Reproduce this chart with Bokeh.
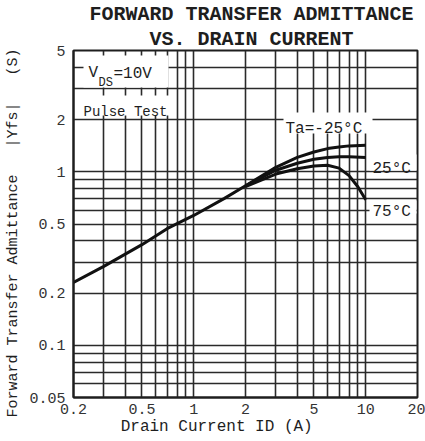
import math
from bokeh.plotting import figure
from bokeh.models import FixedTicker, Label, BoxAnnotation, CustomJSTickFormatter, Title
from bokeh.embed import file_html
from bokeh.resources import INLINE

# ---- data ----
x_ticks = [0.2, 0.5, 1, 2, 5, 10, 20]
y_ticks = [0.05, 0.1, 0.2, 0.5, 1, 2, 5]
x_grid = [0.3, 0.4, 0.5, 0.6, 0.7, 0.8, 0.9, 1, 2, 3, 4, 5, 6, 7, 8, 9, 10]
y_grid = [0.06, 0.07, 0.08, 0.09, 0.1, 0.2, 0.3, 0.4, 0.5, 0.6, 0.7, 0.8, 0.9, 1, 2, 3, 4]

common_id = [0.2, 0.3, 0.5, 0.7, 1.0, 1.5, 2.0]
common_yfs = [0.23, 0.285, 0.38, 0.47, 0.56, 0.70, 0.83]

m25_id = [2.0, 3, 4, 5, 6, 7, 8, 10]
m25_yfs = [0.83, 1.06, 1.21, 1.30, 1.36, 1.39, 1.41, 1.42]

p25_id = [2.0, 3, 4, 5, 6, 7, 8, 10]
p25_yfs = [0.83, 1.02, 1.12, 1.18, 1.21, 1.22, 1.22, 1.21]

p75_id = [2.0, 3, 4, 5, 6, 7, 8, 9, 10]
p75_yfs = [0.82, 0.97, 1.04, 1.08, 1.09, 1.05, 0.95, 0.82, 0.69]

FONT = "Liberation Mono"
INK = "#1e1e1e"
NB = "\u00a0"

FL, FB = 73, 395  # frame left / bottom in canvas px

def sx(x):
    return x - FL

def sy(y):
    return FB - y

def dx(px):
    return 10 ** (math.log10(0.2) + (px - 73) / 344 * 2)

def dy(py):
    return 10 ** (math.log10(5) - (py - 48) / 347 * 2)

p = figure(x_axis_type="log", y_axis_type="log", x_range=(0.2, 20), y_range=(0.05, 5),
           frame_width=344, frame_height=347,
           min_border_left=73, min_border_right=8, min_border_top=48, min_border_bottom=46,
           output_backend="svg", toolbar_location=None)
p.background_fill_color = "white"
p.border_fill_color = "white"
p.outline_line_color = INK
p.outline_line_width = 2

# titles (last added is outermost)
p.add_layout(Title(text=NB + "VS. DRAIN CURRENT", align="center", text_font=FONT,
                   text_font_size="20px", text_font_style="bold", text_color=INK,
                   standoff=0, text_line_height=0.9), "above")
p.add_layout(Title(text=NB + "FORWARD TRANSFER ADMITTANCE", align="center", text_font=FONT,
                   text_font_size="20px", text_font_style="bold", text_color=INK,
                   standoff=0, text_line_height=0.9), "above")

p.xaxis.ticker = FixedTicker(ticks=x_ticks)
p.yaxis.ticker = FixedTicker(ticks=y_ticks)
p.xaxis.formatter = CustomJSTickFormatter(code="return tick.toString();")
p.yaxis.formatter = CustomJSTickFormatter(code="return tick.toString();")
for ax in (p.xaxis[0], p.yaxis[0]):
    ax.major_tick_out = 0
    ax.major_tick_in = 0
    ax.minor_tick_line_color = None
    ax.axis_line_color = INK
    ax.axis_line_width = 2
    ax.major_label_text_font = FONT
    ax.major_label_text_font_size = "15px"
    ax.major_label_text_color = "#333333"
    ax.axis_label_text_font = FONT
    ax.axis_label_text_font_style = "normal"
    ax.axis_label_text_color = INK
p.xaxis.major_label_standoff = 6
p.yaxis.major_label_standoff = 8

p.xaxis.axis_label = "Drain Current ID (A)" + NB * 6
p.xaxis.axis_label_text_font_size = "16px"
p.xaxis.axis_label_standoff = 1
p.yaxis.axis_label = "Forward Transfer Admittance" + NB * 3 + "|Yfs|" + NB * 3 + "(S)" + NB * 2
p.yaxis.axis_label_text_font_size = "15px"
p.yaxis.axis_label_standoff = 4

p.xgrid.ticker = FixedTicker(ticks=x_grid)
p.ygrid.ticker = FixedTicker(ticks=y_grid)
for g in (p.xgrid[0], p.ygrid[0]):
    g.grid_line_color = "#2a2a2a"
    g.grid_line_width = 1.6
    g.grid_line_alpha = 1.0

for xs, ys in ((common_id, common_yfs), (m25_id, m25_yfs), (p25_id, p25_yfs), (p75_id, p75_yfs)):
    p.line(xs, ys, line_color="#111111", line_width=3)

def box(l, r, t, b):
    p.add_layout(BoxAnnotation(left=dx(l), right=dx(r), top=dy(t), bottom=dy(b),
                               fill_color="white", fill_alpha=1.0, line_color=None,
                               line_alpha=0.0))

def lab(x, y, text, size, align="left", baseline="alphabetic", bold=False):
    p.add_layout(Label(x=sx(x), y=sy(y), x_units="screen", y_units="screen", text=text,
                       text_font=FONT, text_font_size=f"{size}px", text_align=align,
                       text_baseline=baseline, text_font_style="bold" if bold else "normal",
                       text_color=INK))

# white boxes behind in-plot texts
box(83, 168, 53, 85)
box(78, 171, 93, 113)
box(283, 372, 110, 131)
box(369, 416, 152, 168)
box(369, 416, 198, 211)

# in-plot labels
lab(88, 70, "V", 16)
lab(98, 80, "DS", 12)
lab(113, 71, "=10V", 16)
lab(83, 109, "Pulse Test", 14)
lab(285, 126, "Ta=-25\u00b0C", 16)
lab(372, 166, "25\u00b0C", 16)
lab(372, 209, "75\u00b0C", 16)

open("out.html", "w").write(file_html(p, INLINE))
